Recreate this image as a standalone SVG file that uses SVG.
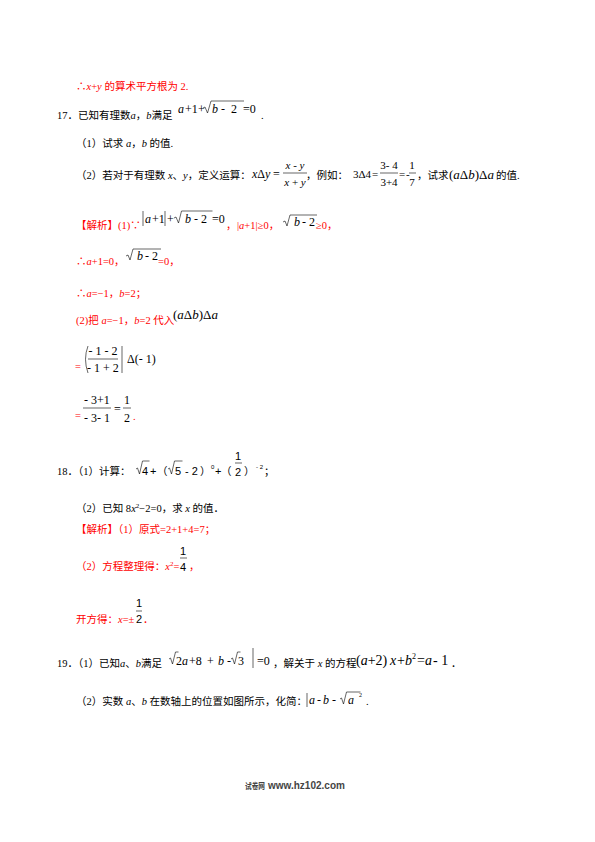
<svg xmlns="http://www.w3.org/2000/svg" width="595" height="842" viewBox="0 0 595 842">
<style>
text{font-family:"Liberation Serif","Noto Sans CJK SC",serif;font-size:10.5px;fill:#000}
.r{fill:#f00}
.m{font-family:"Liberation Serif",serif;font-size:12px}
.f{font-family:"Liberation Serif",serif;font-size:11px}
.s{font-family:"Liberation Sans","Noto Sans CJK SC",sans-serif;font-size:11px}
.i{font-style:italic}
.ln{stroke:#000;stroke-width:0.6;fill:none}
.ft{font-family:"Liberation Sans","Noto Sans CJK SC",sans-serif;font-weight:bold;fill:#444}
</style>
<rect width="595" height="842" fill="#fff"/>

<g id="conclusion16">
<text class="r" x="76" y="90">∴<tspan class="i">x</tspan>+<tspan class="i">y</tspan> 的算术平方根为 2.</text>
</g>

<g id="q17">
<text x="57" y="119">17．已知有理数<tspan class="i">a</tspan>，<tspan class="i">b</tspan>满足</text>
<text class="m" y="113"><tspan x="178" class="i">a</tspan><tspan x="185">+1</tspan><tspan x="198">+</tspan><tspan x="212" class="i">b</tspan><tspan x="221">-</tspan><tspan x="231">2</tspan><tspan x="243">=0</tspan></text>
<path class="ln" d="M203,108 l2,-1 l2.5,6 l3.5,-12 h33"/>
<text x="261" y="119">.</text>
<text x="76" y="147">（1）试求 <tspan class="i">a</tspan>，<tspan class="i">b</tspan> 的值.</text>
<text x="76" y="179">（2）若对于有理数 <tspan class="i">x</tspan>、<tspan class="i">y</tspan>，定义运算：</text>
<text class="m" y="178"><tspan x="252" class="i">x</tspan><tspan>Δ</tspan><tspan class="i">y</tspan><tspan x="273">=</tspan></text>
<text class="f" x="295" y="169" text-anchor="middle"><tspan class="i">x</tspan> - <tspan class="i">y</tspan></text>
<line class="ln" x1="283" y1="173" x2="307" y2="173"/>
<text class="f" x="295" y="186" text-anchor="middle"><tspan class="i">x</tspan> + <tspan class="i">y</tspan></text>
<text x="306" y="179">，例如：</text>
<text class="f" y="178"><tspan x="353">3Δ4</tspan><tspan x="372">=</tspan><tspan x="399">=</tspan><tspan x="406">-</tspan></text>
<text class="f" x="389" y="169" text-anchor="middle">3- 4</text>
<line class="ln" x1="380" y1="173" x2="398" y2="173"/>
<text class="f" x="389" y="186" text-anchor="middle">3+4</text>
<text class="f" x="412" y="169" text-anchor="middle">1</text>
<line class="ln" x1="409" y1="173" x2="416" y2="173"/>
<text class="f" x="412" y="186" text-anchor="middle">7</text>
<text x="417" y="179">，试求</text>
<text class="m" x="449" y="179" style="font-size:13px">(<tspan class="i">a</tspan>Δ<tspan class="i">b</tspan>)Δ<tspan class="i">a</tspan></text>
<text x="496" y="179">的值.</text>
</g>

<g id="sol17">
<text class="r" x="76" y="229">【解析】(1)∵</text>
<line class="ln" x1="143" y1="211" x2="143" y2="226"/>
<text class="m" y="223"><tspan x="145" class="i">a</tspan><tspan x="152">+1</tspan><tspan x="167">+</tspan><tspan x="185" class="i">b</tspan><tspan x="194">-</tspan><tspan x="201">2</tspan><tspan x="212">=0</tspan></text>
<line class="ln" x1="165" y1="211" x2="165" y2="226"/>
<path class="ln" d="M174,218 l2,-1 l2.5,6 l3,-12 h31"/>
<text class="r" x="226" y="229">，</text>
<text class="r" x="237" y="229">|<tspan class="i">a</tspan>+1|≥0，</text>
<path class="ln" d="M283,222 l2,-1 l2,5 l3,-11 h27"/>
<text class="m" y="226"><tspan x="294" class="i">b</tspan><tspan x="302">-</tspan><tspan x="309">2</tspan></text>
<text class="r" x="316" y="229">≥0，</text>

<text class="r" x="76" y="265">∴<tspan class="i">a</tspan>+1=0，</text>
<path class="ln" d="M126,256 l2,-1 l2,5 l3,-11 h28"/>
<text class="m" y="260"><tspan x="137" class="i">b</tspan><tspan x="145">-</tspan><tspan x="152">2</tspan></text>
<text class="r" x="158" y="265">=0，</text>

<text class="r" x="76" y="297">∴<tspan class="i">a</tspan>=−1，<tspan class="i">b</tspan>=2；</text>

<text class="r" x="76" y="324">(2)把 <tspan class="i">a</tspan>=−1，<tspan class="i">b</tspan>=2 代入</text>
<text class="m" x="173" y="319" style="font-size:13px">(<tspan class="i">a</tspan>Δ<tspan class="i">b</tspan>)Δ<tspan class="i">a</tspan></text>

<text class="r" x="75" y="370">=</text>
<path class="ln" d="M88,346 Q83,359 88,373"/>
<text class="m" x="103" y="355" text-anchor="middle">- 1 - 2</text>
<line class="ln" x1="88" y1="359" x2="118" y2="359"/>
<text class="m" x="103" y="372" text-anchor="middle">- 1 + 2</text>
<line class="ln" x1="122" y1="346" x2="122" y2="373"/>
<text class="m" x="127" y="363">Δ(- 1)</text>

<text class="r" x="75" y="419">=</text>
<text class="m" x="97" y="404" text-anchor="middle">- 3+1</text>
<line class="ln" x1="83" y1="408" x2="111" y2="408"/>
<text class="m" x="97" y="422" text-anchor="middle">- 3- 1</text>
<text class="m" x="114" y="413">=</text>
<text class="m" x="127" y="404" text-anchor="middle">1</text>
<line class="ln" x1="123" y1="408" x2="131" y2="408"/>
<text class="m" x="127" y="422" text-anchor="middle">2</text>
<text class="r" x="133" y="420">.</text>
</g>

<g id="q18">
<text x="57" y="475">18．（1）计算：</text>
<path class="ln" d="M136,469 l1.5,-1 l2,6 l3,-13 h7"/>
<text class="s" y="475"><tspan x="142">4</tspan><tspan x="150">+</tspan></text>
<text x="157" y="475">（</text>
<path class="ln" d="M168,469 l1.5,-1 l2,6 l3,-13 h8"/>
<text class="s" y="475"><tspan x="175">5</tspan><tspan x="185">- 2</tspan></text>
<text x="200" y="475">）</text>
<text class="s" x="211" y="469" style="font-size:6px">0</text>
<text class="s" x="215" y="475">+</text>
<text x="221" y="475">（</text>
<text class="s" x="238" y="460" text-anchor="middle">1</text>
<line class="ln" x1="235" y1="463" x2="242" y2="463"/>
<text class="s" x="238" y="476" text-anchor="middle">2</text>
<text x="244" y="475">）</text>
<text class="s" x="256" y="469" style="font-size:6px">- 2</text>
<text x="264" y="475">；</text>
<text x="76" y="512">（2）已知 8<tspan class="i">x</tspan><tspan dy="-4" style="font-size:7px">2</tspan><tspan dy="4">−2=0，求 </tspan><tspan class="i">x</tspan> 的值．</text>
</g>

<g id="sol18">
<text class="r" x="76" y="533">【解析】（1）原式=2+1+4=7；</text>
<text class="r" x="76" y="570">（2）方程整理得：<tspan class="i">x</tspan><tspan dy="-4" style="font-size:7px">2</tspan><tspan dy="4">=</tspan></text>
<text class="s" x="183" y="555" text-anchor="middle">1</text>
<line class="ln" x1="180" y1="558" x2="187" y2="558"/>
<text class="s" x="183" y="571" text-anchor="middle">4</text>
<text class="r" x="189" y="570">，</text>
<text class="r" x="76" y="623">开方得：<tspan class="i">x</tspan>=±</text>
<text class="s" x="139" y="607" text-anchor="middle">1</text>
<line class="ln" x1="136" y1="611" x2="142" y2="611"/>
<text class="s" x="139" y="623" text-anchor="middle">2</text>
<text class="r" x="143" y="623">．</text>
</g>

<g id="q19">
<text x="57" y="667">19．（1）已知<tspan class="i">a</tspan>、<tspan class="i">b</tspan>满足</text>
<path class="ln" d="M169,659 l1.5,-1 l2,6 l3,-12 h3"/>
<text class="m" y="665"><tspan x="176">2</tspan><tspan class="i">a</tspan><tspan x="189">+8</tspan><tspan x="207">+</tspan><tspan x="218" class="i">b</tspan><tspan x="227">-</tspan><tspan x="238">3</tspan><tspan x="257">=0</tspan></text>
<path class="ln" d="M231,659 l1.5,-1 l2,6 l3,-12 h3"/>
<line class="ln" x1="253" y1="648" x2="253" y2="668"/>
<text x="273" y="667">，解关于 <tspan class="i">x</tspan> 的方程</text>
<text class="m" y="665" style="font-size:14px"><tspan x="356">(</tspan><tspan class="i">a</tspan><tspan>+2)</tspan><tspan x="390" class="i">x</tspan><tspan x="397">+</tspan><tspan class="i">b</tspan><tspan dy="-6" style="font-size:8px">2</tspan><tspan x="417" dy="6">=</tspan><tspan class="i">a</tspan><tspan x="433">- 1</tspan></text>
<text x="451" y="667">．</text>
<text x="76" y="705">（2）实数 <tspan class="i">a</tspan>、<tspan class="i">b</tspan> 在数轴上的位置如图所示，化简：</text>
<line class="ln" x1="307" y1="693" x2="307" y2="707"/>
<text class="m" y="704"><tspan x="309" class="i">a</tspan><tspan x="317">-</tspan><tspan x="323" class="i">b</tspan><tspan x="332">-</tspan><tspan x="348" class="i">a</tspan></text>
<path class="ln" d="M340,699 l1.5,-1 l2,6 l3,-12 h14"/>
<text class="m" x="359" y="697" style="font-size:6px">2</text>
<text x="366" y="705">.</text>
</g>

<g id="footer">
<text class="ft" x="245" y="789" style="font-size:8.5px" textLength="20" lengthAdjust="spacingAndGlyphs">试卷网</text>
<text class="ft" x="268" y="789" style="font-size:10px">www.hz102.com</text>
</g>
</svg>
